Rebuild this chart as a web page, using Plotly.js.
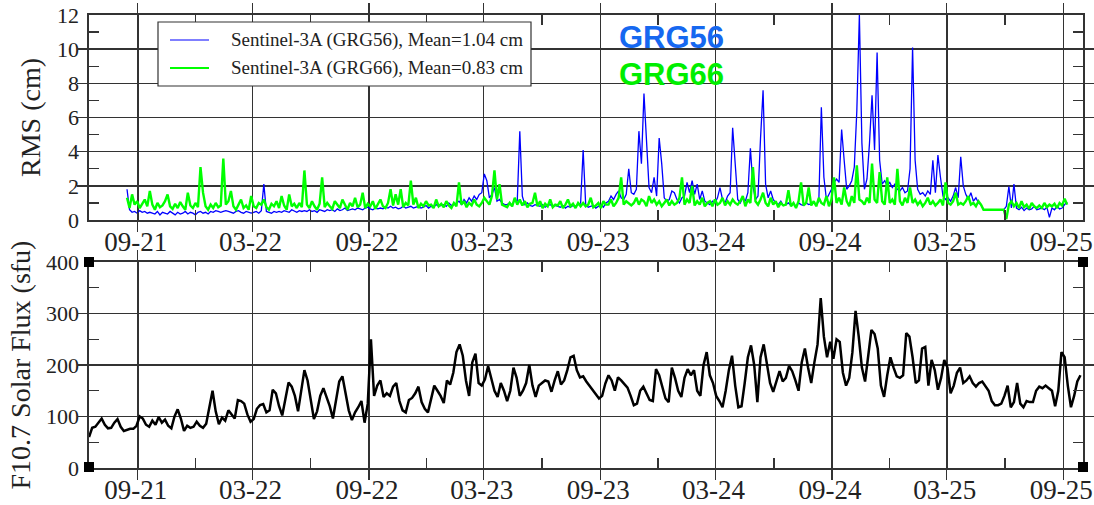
<!DOCTYPE html>
<html><head><meta charset="utf-8">
<script src="https://cdn.plot.ly/plotly-3.0.1.min.js"></script>
<style>html,body{margin:0;padding:0;background:#fff}</style>
</head><body><div id="chart" style="width:1094px;height:505px"></div>
<script>
// ---------- data ----------
const seriesNames = ['Sentinel-3A (GRG56), Mean=1.04 cm', 'Sentinel-3A (GRG66), Mean=0.83 cm'];
const rmsStart = '2021-08-15';
const rmsStepDays = 4;
const rmsGRG56 = [
1.8,0.6,0.45,0.5,0.4,0.55,0.45,0.5,0.4,0.45,
0.4,0.35,0.5,0.3,0.45,0.4,0.35,0.5,0.4,0.3,
0.45,0.35,0.4,0.5,0.35,0.45,0.4,0.3,0.45,0.5,
0.4,0.45,0.35,0.5,0.45,0.55,0.5,0.45,0.5,0.55,
0.5,0.45,0.4,0.5,0.55,0.45,0.4,0.5,0.45,0.4,
0.45,0.5,0.4,0.55,2.1,0.5,0.45,0.4,0.5,0.45,
0.5,0.45,0.55,0.5,0.45,0.6,0.5,0.45,0.55,0.5,
0.55,0.5,0.6,0.5,0.55,0.45,0.6,0.55,0.5,0.6,
0.55,0.6,0.5,0.65,0.55,0.6,0.7,0.55,0.6,0.65,
0.6,0.7,0.65,0.6,0.7,0.75,0.65,0.6,0.7,0.65,
0.7,0.65,0.75,0.7,0.8,0.7,0.75,0.65,0.7,0.8,
0.7,0.75,0.8,0.7,0.75,0.8,0.7,0.75,0.85,0.7,
0.8,0.75,0.9,0.8,0.85,0.9,0.8,1.0,0.85,0.9,
1.0,1.1,0.9,1.2,1.0,1.3,1.1,1.4,1.2,1.5,
1.6,2.7,2.3,1.3,1.5,1.9,1.1,1.2,1.0,0.9,
0.9,1.0,0.85,1.2,1.1,5.2,1.4,0.9,1.0,0.85,
0.8,0.9,0.85,0.8,0.9,0.75,0.85,0.9,0.8,0.85,
0.8,0.75,0.85,0.7,0.8,0.75,0.85,0.8,0.9,1.0,
4.1,0.9,0.75,0.8,0.85,0.7,0.8,0.9,0.75,1.0,
1.1,1.4,1.2,1.5,1.7,1.3,1.2,1.5,3.0,1.6,
1.5,1.8,5.2,3.3,7.4,4.8,1.9,1.6,2.5,1.4,
4.8,3.3,1.3,1.1,1.2,1.7,1.6,1.2,1.0,1.3,
1.4,2.2,1.6,2.3,1.5,2.1,1.2,1.7,1.1,1.0,
0.9,1.1,1.0,1.3,1.9,1.2,1.0,1.4,1.6,5.4,
3.3,1.2,1.0,1.3,1.1,1.6,4.2,2.0,1.2,1.4,
4.8,7.6,2.1,1.3,1.7,1.2,1.0,0.9,1.1,0.85,
0.9,1.0,0.85,0.95,0.8,1.0,0.9,0.85,1.0,0.9,
0.95,1.0,0.9,1.1,6.6,2.5,1.2,1.5,1.8,2.2,
2.4,2.2,5.3,3.5,1.8,2.0,2.3,3.1,6.4,12.0,
4.5,1.8,2.4,4.5,7.3,4.1,9.8,3.5,2.1,2.3,
2.0,2.2,1.9,2.1,1.8,1.7,1.9,1.6,1.7,3.0,
10.1,3.5,1.8,1.5,1.6,1.4,1.7,1.5,3.5,1.6,
3.8,2.5,1.4,1.2,1.3,1.1,1.4,1.9,1.3,3.7,
2.0,1.5,1.2,1.6,1.1,1.3,1.0,0.9,0.6,0.6,
0.6,0.6,0.6,0.6,0.6,0.6,0.6,0.8,1.95,0.7,
2.1,0.7,0.6,0.75,0.55,0.7,0.6,0.65,0.8,0.6,
0.65,0.7,0.6,0.75,0.15,0.7,0.6,0.8,0.65,0.7,0.9,1.05
];
const rmsGRG66 = [
1.3,0.7,1.5,0.9,1.1,0.7,0.95,1.2,0.8,1.7,
0.9,0.6,1.0,0.75,0.85,1.1,1.5,0.8,0.65,0.95,
0.7,1.05,0.8,0.6,1.6,0.85,0.7,1.0,0.75,3.1,
1.6,0.8,0.6,0.9,0.7,1.0,0.75,0.85,3.6,0.9,
1.1,1.7,0.8,0.6,0.9,1.2,0.7,0.85,0.6,1.4,
0.8,0.7,1.0,0.9,1.2,0.75,0.6,0.95,0.8,1.1,
0.7,1.4,0.85,0.6,1.5,0.8,0.95,0.7,1.0,0.75,
2.9,0.9,0.7,1.1,0.8,0.6,0.95,2.5,0.75,1.0,
0.8,0.65,1.1,0.9,0.7,1.2,0.85,0.6,1.0,0.8,
1.3,0.75,0.9,1.6,0.7,0.95,0.8,1.1,0.65,0.9,
1.2,0.8,0.7,1.0,1.8,0.85,1.5,0.9,1.8,0.75,
1.0,0.85,2.3,0.9,1.3,0.7,0.95,0.8,1.1,0.85,
0.9,0.7,1.2,0.8,0.95,0.75,1.1,0.85,0.7,1.0,
0.8,2.2,0.9,1.1,0.75,1.0,0.85,1.2,0.9,0.8,
1.0,1.3,1.1,0.9,1.4,2.9,1.2,2.1,0.9,0.8,
0.75,1.0,0.8,1.3,0.9,1.2,0.85,1.1,0.75,0.95,
1.0,1.6,0.8,1.1,0.7,0.95,0.8,1.2,0.75,0.9,
0.85,1.1,0.7,0.9,1.2,0.8,0.95,0.7,1.0,0.8,
1.0,0.8,0.9,1.3,0.75,0.85,1.0,0.7,1.1,0.9,
0.9,1.2,0.8,1.0,1.3,2.5,0.9,1.1,1.0,0.85,
1.0,1.3,0.9,1.2,1.1,0.8,1.4,1.0,1.2,0.9,
1.1,0.8,1.0,1.2,0.85,1.1,0.9,1.0,1.3,2.5,
0.9,1.2,1.0,2.0,0.85,1.1,0.9,1.3,0.8,1.0,
1.1,0.8,1.2,0.9,1.0,1.3,0.85,1.1,0.9,1.2,
1.0,0.9,1.1,1.4,0.8,1.2,1.0,3.1,1.1,0.9,
1.2,1.6,1.0,0.8,1.3,0.9,1.1,0.75,1.0,0.85,
0.9,1.75,0.8,1.0,0.7,1.1,2.2,0.85,1.0,1.9,
0.85,1.1,0.8,1.3,1.0,0.9,1.4,0.8,1.2,2.5,
1.0,1.3,0.9,1.9,1.1,0.8,1.4,1.0,3.2,1.2,
1.1,0.9,1.3,1.0,3.3,1.2,1.0,2.8,1.1,0.9,
2.5,1.0,1.2,0.9,3.0,1.1,0.85,1.3,1.0,1.9,
1.0,1.2,0.9,1.1,0.8,1.0,1.3,0.9,1.1,0.85,
1.0,1.2,0.85,2.2,1.0,0.9,1.1,1.6,0.9,1.0,
0.9,1.1,1.4,0.9,1.0,0.8,1.1,0.9,0.6,0.6,
0.6,0.6,0.6,0.6,0.6,0.6,0.6,0.05,0.9,1.1,
0.8,1.0,0.7,1.1,0.75,0.9,0.65,1.0,0.8,0.7,
0.85,0.7,1.0,0.75,0.9,0.8,0.95,0.7,1.0,0.85,1.25,0.9
];
const fluxStart = '2021-06-16';
const fluxStepDays = 5;
const solarFlux = [
60,78,80,88,96,84,77,78,88,95,
80,72,74,76,76,82,100,96,84,80,
92,84,99,88,94,82,77,100,114,96,
72,82,78,80,90,82,78,86,118,150,
110,85,98,92,112,105,96,132,130,125,
104,90,95,115,122,124,108,112,152,145,
120,102,138,166,158,140,110,150,190,170,
130,95,110,140,155,138,120,96,135,168,
178,148,112,93,108,118,130,88,125,250,
140,160,170,138,145,140,158,165,130,112,
108,132,136,145,158,128,115,108,135,160,
150,140,126,170,162,185,225,240,218,170,
140,205,222,165,160,172,198,175,150,138,
165,150,130,150,195,175,140,150,165,200,
160,138,160,165,170,168,148,170,188,162,
170,190,215,218,190,176,178,168,160,150,
142,135,140,164,180,170,150,176,170,163,
156,140,122,125,150,158,145,132,130,192,
180,155,135,128,195,175,150,138,175,192,
180,190,150,140,200,225,180,165,140,130,
118,150,190,218,160,118,120,165,215,238,
200,128,215,240,205,165,148,170,188,168,
175,198,188,170,150,205,232,195,165,205,
240,330,255,215,245,212,250,245,185,160,
175,225,305,255,195,168,215,268,260,232,
160,138,180,215,195,178,175,180,262,255,
215,165,170,232,235,160,210,190,152,175,
210,195,145,160,185,195,165,170,178,165,
158,165,168,158,150,130,122,122,125,140,
160,118,128,165,125,118,130,128,128,150,
158,155,160,155,150,120,150,225,215,160,
118,140,168,180
];
const panelLabels = ['GRG56', 'GRG66'];

// ---------- helpers ----------
function dateSeries(start, stepDays, n) {
  const t0 = Date.parse(start + 'T00:00:00Z');
  const out = [];
  for (let i = 0; i < n; i++) out.push(new Date(t0 + i * stepDays * 86400000).toISOString().slice(0, 10));
  return out;
}
const rmsDates = dateSeries(rmsStart, rmsStepDays, rmsGRG56.length);
const fluxDates = dateSeries(fluxStart, fluxStepDays, solarFlux.length);

// pixel -> paper conversion for decorations (plot area 89..1083 x 15..468)
const PX = x => (x - 89) / 994;
const PY = y => (468 - y) / 453;

const serif = 'Liberation Serif';
const sans = 'Liberation Sans';
const ink = '#222';
const xRange = ['2021-06-16', '2025-10-02'];

const xCommon = {
  type: 'date', range: xRange,
  tickformat: '%m-%y', dtick: 'M6', tick0: '2021-09-01',
  showline: true, linecolor: '#333', linewidth: 1.6, mirror: 'allticks',
  ticks: 'inside', ticklen: 10, tickwidth: 1.4, tickcolor: '#333',
  showgrid: true, gridcolor: '#333', gridwidth: 1.5, zeroline: false,
  tickfont: {family: serif, size: 27, color: ink},
  ticklabelstandoff: -3, ticklabelshift: -2, ticklabeloverflow: 'allow'
};
const yCommon = {
  showline: true, linecolor: '#333', linewidth: 1.6, mirror: 'allticks',
  ticks: 'inside', ticklen: 10, tickwidth: 1.4, tickcolor: '#333',
  showgrid: true, gridcolor: '#333', gridwidth: 1.5, zeroline: false,
  tickfont: {family: serif, size: 22, color: ink},
  ticklabelstandoff: 4
};
// tick-only overlay axes carrying the intermediate ticks on all four sides
const minorTick = {ticks: 'inside', ticklen: 10, tickwidth: 1.4, tickcolor: '#333', mirror: 'ticks',
  showline: false, showgrid: false, zeroline: false, showticklabels: false};

const traces = [
  {x: rmsDates, y: rmsGRG56, name: seriesNames[0], type: 'scatter', mode: 'lines',
   line: {color: '#0000ff', width: 1.3}, xaxis: 'x', yaxis: 'y', showlegend: false},
  {x: rmsDates, y: rmsGRG66, name: seriesNames[1], type: 'scatter', mode: 'lines',
   line: {color: '#00ff00', width: 2.4}, xaxis: 'x', yaxis: 'y', showlegend: false},
  {x: fluxDates, y: solarFlux, name: 'F10.7', type: 'scatter', mode: 'lines',
   line: {color: '#000000', width: 2.5}, xaxis: 'x2', yaxis: 'y2', showlegend: false},
  // empty holders so the tick-only overlay axes are drawn
  {x: [], y: [], type: 'scatter', mode: 'lines', xaxis: 'x3', yaxis: 'y', showlegend: false, hoverinfo: 'skip'},
  {x: [], y: [], type: 'scatter', mode: 'lines', xaxis: 'x4', yaxis: 'y2', showlegend: false, hoverinfo: 'skip'},
  {x: [], y: [], type: 'scatter', mode: 'lines', xaxis: 'x', yaxis: 'y3', showlegend: false, hoverinfo: 'skip'},
  {x: [], y: [], type: 'scatter', mode: 'lines', xaxis: 'x2', yaxis: 'y4', showlegend: false, hoverinfo: 'skip'}
];

const corner = (cx, cy) => ({type: 'rect', xref: 'paper', yref: 'paper', layer: 'above',
  x0: PX(cx - 5), x1: PX(cx + 5), y0: PY(cy + 5), y1: PY(cy - 5), fillcolor: '#000', line: {width: 0}});

const layout = {
  width: 1094, height: 505,
  margin: {l: 89, r: 11, t: 15, b: 37},
  paper_bgcolor: '#fff', plot_bgcolor: '#fff',
  font: {family: serif, color: ink},
  xaxis: Object.assign({}, xCommon, {anchor: 'y', domain: [0, 1]}),
  xaxis2: Object.assign({}, xCommon, {anchor: 'y2', domain: [0, 1]}),
  yaxis: Object.assign({}, yCommon, {anchor: 'x', domain: [PY(220), 1], range: [0, 12], dtick: 2,
    title: {text: 'RMS (cm)', font: {family: serif, size: 28, color: ink}, standoff: 8}}),
  yaxis2: Object.assign({}, yCommon, {anchor: 'x2', domain: [0, PY(262)], range: [0, 400], dtick: 100,
    title: {text: 'F10.7 Solar Flux (sfu)', font: {family: serif, size: 28, color: ink}, standoff: 7}}),
  xaxis3: Object.assign({}, minorTick, {type: 'date', range: xRange, dtick: 'M3', tick0: '2021-09-01', overlaying: 'x', anchor: 'y'}),
  xaxis4: Object.assign({}, minorTick, {type: 'date', range: xRange, dtick: 'M3', tick0: '2021-09-01', overlaying: 'x2', anchor: 'y2'}),
  yaxis3: Object.assign({}, minorTick, {range: [0, 12], dtick: 1, overlaying: 'y', anchor: 'x'}),
  yaxis4: Object.assign({}, minorTick, {range: [0, 400], dtick: 50, overlaying: 'y2', anchor: 'x2'}),
  shapes: [
    {type: 'rect', xref: 'paper', yref: 'paper', layer: 'above',
     x0: PX(158), x1: PX(531), y0: PY(86), y1: PY(22), fillcolor: '#fff', line: {color: '#333', width: 1.2}},
    {type: 'line', xref: 'paper', yref: 'paper', layer: 'above',
     x0: PX(170), x1: PX(209), y0: PY(40), y1: PY(40), line: {color: '#0000ff', width: 1.2}},
    {type: 'line', xref: 'paper', yref: 'paper', layer: 'above',
     x0: PX(170), x1: PX(209), y0: PY(68), y1: PY(68), line: {color: '#00ff00', width: 2.2}},
    corner(89, 262), corner(89, 467), corner(1083, 262), corner(1083, 467)
  ],
  annotations: [
    {xref: 'paper', yref: 'paper', x: PX(229), y: PY(40), xanchor: 'left', yanchor: 'middle', showarrow: false,
     text: seriesNames[0], font: {family: serif, size: 19, color: ink}},
    {xref: 'paper', yref: 'paper', x: PX(229), y: PY(68), xanchor: 'left', yanchor: 'middle', showarrow: false,
     text: seriesNames[1], font: {family: serif, size: 19, color: ink}},
    {xref: 'paper', yref: 'paper', x: PX(671), y: PY(37), xanchor: 'center', yanchor: 'middle', showarrow: false,
     text: '<b>' + panelLabels[0] + '</b>', font: {family: sans, size: 31, color: '#1668f0'}},
    {xref: 'paper', yref: 'paper', x: PX(671), y: PY(74), xanchor: 'center', yanchor: 'middle', showarrow: false,
     text: '<b>' + panelLabels[1] + '</b>', font: {family: sans, size: 31, color: '#00ee00'}}
  ]
};

Plotly.newPlot('chart', traces, layout, {displayModeBar: false, staticPlot: true});
</script>
</body></html>
